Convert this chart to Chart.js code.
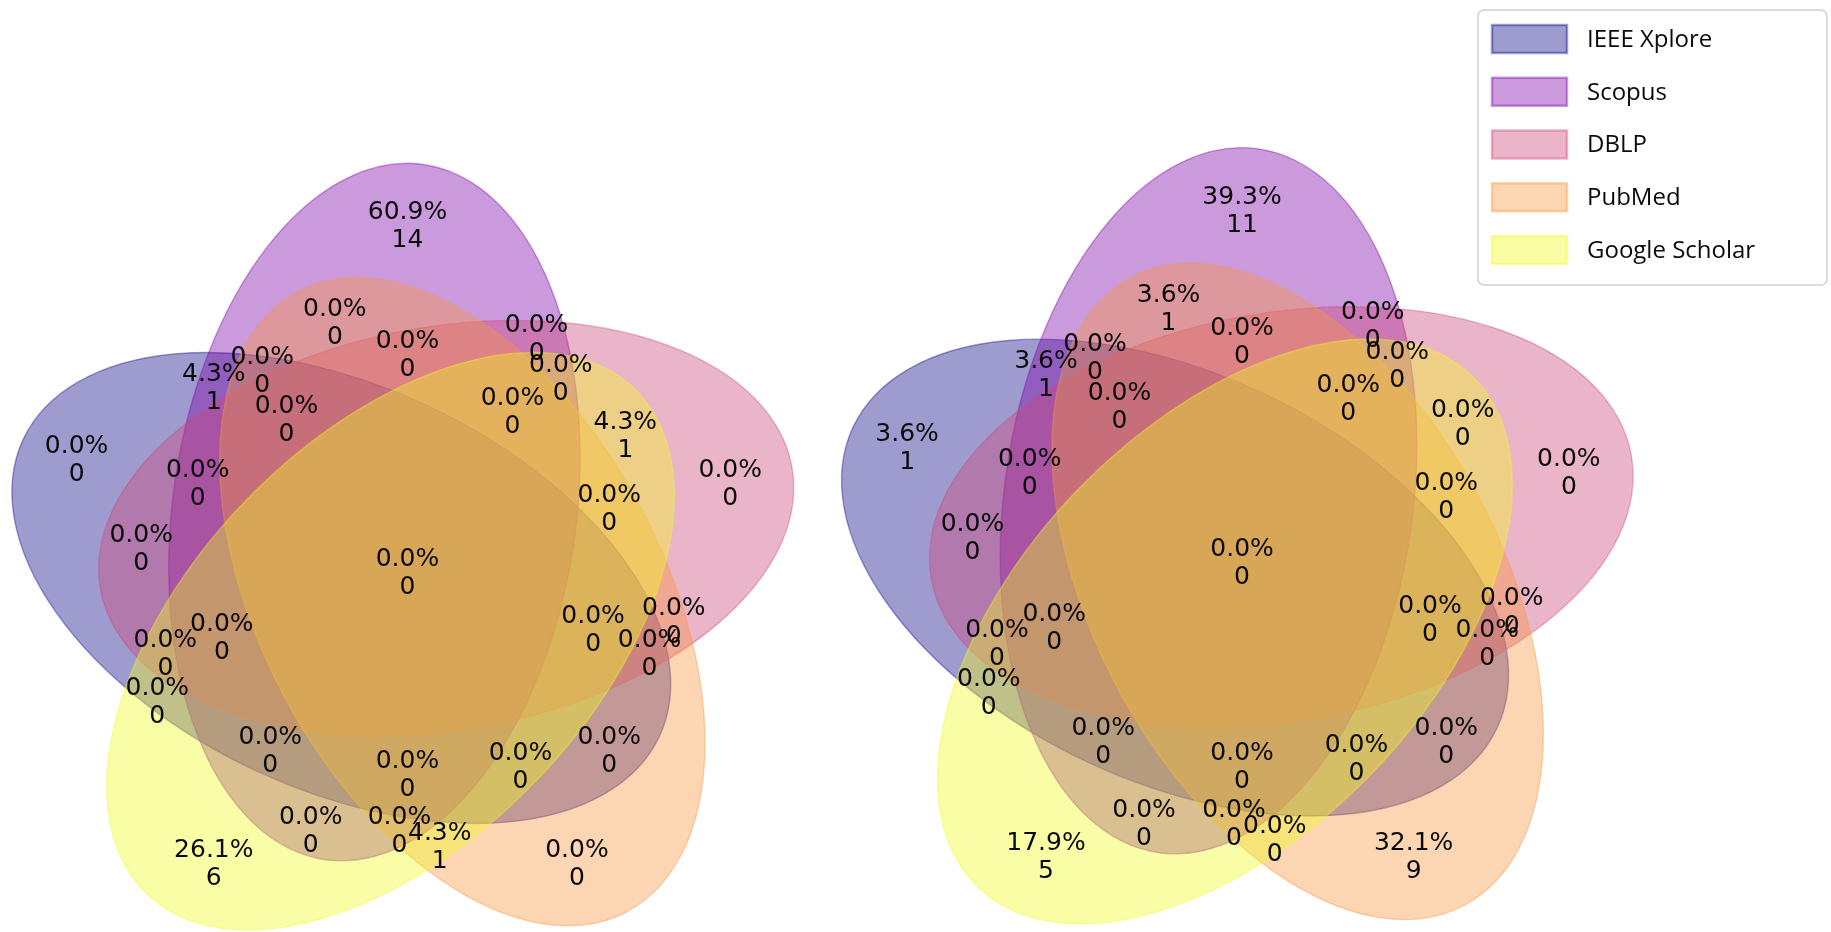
<!DOCTYPE html>
<html lang="en">
<head>
    <meta charset="UTF-8">
    <title>Venn</title>
    <script src="https://cdn.jsdelivr.net/npm/chart.js@4.4.0/dist/chart.umd.min.js"></script>
    <style>
        body { margin: 0; background: #fff; }
        #leftVenn { position: absolute; left: 0; top: 0; }
        #rightVenn { position: absolute; left: 820px; top: 0; }
    </style>
</head>
<body>
    <canvas id="leftVenn" width="820" height="932"></canvas>
    <canvas id="rightVenn" width="1011" height="932"></canvas>
<script>
    // sets, in order of the bits of a region code
    var setNames = ['IEEE Xplore', 'Scopus', 'DBLP', 'PubMed', 'Google Scholar'];
    var setColors = [[13, 8, 135], [126, 3, 168], [204, 71, 120], [248, 149, 64], [240, 249, 33]];

    // regions of the 5-set diagram (1 = inside that set)
    var regionCodes = ['00001', '00010', '00011', '00100', '00101', '00110', '00111',
        '01000', '01001', '01010', '01011', '01100', '01101', '01110', '01111',
        '10000', '10001', '10010', '10011', '10100', '10101', '10110', '10111',
        '11000', '11001', '11010', '11011', '11100', '11101', '11110', '11111'];

    var leftCounts = [6, 0, 1, 0, 1, 0, 0, 14, 0, 0, 0, 0, 0, 0, 0, 0, 0, 0, 0, 0, 0, 0, 0, 1, 0, 0, 0, 0, 0, 0, 0];
    var rightCounts = [5, 9, 0, 0, 0, 0, 0, 11, 0, 1, 0, 0, 0, 0, 0, 1, 0, 0, 0, 0, 0, 0, 0, 1, 0, 0, 0, 0, 0, 0, 0];

    // layout of the diagram in unit coordinates: ellipse [cx, cy, width, height, angle]
    var ellipses = [
        [0.428, 0.449, 0.87, 0.50, 155],
        [0.469, 0.543, 0.87, 0.50, 82],
        [0.558, 0.523, 0.87, 0.50, 10],
        [0.578, 0.432, 0.87, 0.50, 118],
        [0.489, 0.383, 0.87, 0.50, 46]
    ];
    var labelPos = [
        [0.27, 0.11], [0.72, 0.11], [0.55, 0.13], [0.91, 0.58], [0.78, 0.64], [0.84, 0.41], [0.76, 0.55],
        [0.51, 0.90], [0.39, 0.15], [0.42, 0.78], [0.50, 0.15], [0.67, 0.76], [0.70, 0.71], [0.51, 0.74], [0.64, 0.67],
        [0.10, 0.61], [0.20, 0.31], [0.76, 0.25], [0.65, 0.23], [0.18, 0.50], [0.21, 0.37], [0.81, 0.37], [0.74, 0.40],
        [0.27, 0.70], [0.34, 0.25], [0.33, 0.72], [0.51, 0.22], [0.25, 0.58], [0.28, 0.39], [0.36, 0.66], [0.51, 0.47]
    ];

    function rgba(c, a) {
        return `rgba(${c[0]}, ${c[1]}, ${c[2]}, ${a})`;
    }

    var vennShapes = {
        id: 'vennShapes',
        beforeDatasetsDraw(chart) {
            var ctx = chart.ctx, x = chart.scales.x, y = chart.scales.y;
            ctx.save();
            ellipses.forEach((e, i) => {
                var px = x.getPixelForValue(e[0]);
                var py = y.getPixelForValue(e[1]);
                var rx = Math.abs(x.getPixelForValue(e[0] + e[2] / 2) - px);
                var ry = Math.abs(y.getPixelForValue(e[1] + e[3] / 2) - py);
                ctx.beginPath();
                ctx.ellipse(px, py, rx, ry, -e[4] * Math.PI / 180, 0, 2 * Math.PI);
                ctx.fillStyle = rgba(setColors[i], 0.4);
                ctx.fill();
                ctx.strokeStyle = rgba(setColors[i], 0.4);
                ctx.lineWidth = 1.4;
                ctx.stroke();
            });
            ctx.restore();
        }
    };

    var vennLabels = {
        id: 'vennLabels',
        afterDatasetsDraw(chart) {
            var ctx = chart.ctx;
            var counts = chart.data.datasets[0].counts;
            var total = counts.reduce((a, b) => a + b);
            var meta = chart.getDatasetMeta(0);
            ctx.save();
            ctx.font = '25px "DejaVu Sans"';
            ctx.fillStyle = '#0a0a0a';
            ctx.textAlign = 'center';
            ctx.textBaseline = 'alphabetic';
            meta.data.forEach((pt, i) => {
                var pct = (counts[i] / total * 100).toFixed(1) + '%';
                ctx.fillText(pct, pt.x, pt.y - 14 + 9.1);
                ctx.fillText(String(counts[i]), pt.x, pt.y + 14 + 9.1);
            });
            ctx.restore();
        }
    };

    var vennLegend = {
        id: 'vennLegend',
        afterDraw(chart) {
            if (chart.canvas.id !== 'rightVenn') return;
            var ctx = chart.ctx;
            var bx = 658, by = 10, bw = 349, bh = 275;
            ctx.save();
            ctx.beginPath();
            ctx.roundRect(bx, by, bw, bh, 6);
            ctx.fillStyle = 'rgba(255, 255, 255, 0.8)';
            ctx.fill();
            ctx.strokeStyle = '#d0d0d0';
            ctx.lineWidth = 1.5;
            ctx.stroke();
            ctx.font = '24px "Open Sans"';
            ctx.textBaseline = 'middle';
            setNames.forEach((name, i) => {
                var ry = 25 + i * 52.75;
                ctx.fillStyle = rgba(setColors[i], 0.4);
                ctx.fillRect(672, ry, 75, 28);
                ctx.strokeStyle = rgba(setColors[i], 0.4);
                ctx.lineWidth = 2.5;
                ctx.strokeRect(672, ry, 75, 28);
                ctx.fillStyle = '#0a0a0a';
                ctx.fillText(name, 767, ry + 15);
            });
            ctx.restore();
        }
    };

    function makeVenn(id, counts, view) {
        return new Chart(document.getElementById(id), {
            type: 'scatter',
            data: {
                datasets: [{
                    label: 'regions',
                    counts: counts,
                    data: labelPos.map(p => ({ x: p[0], y: p[1] })),
                    pointRadius: 0,
                    pointHoverRadius: 0
                }]
            },
            options: {
                responsive: false,
                animation: false,
                layout: { padding: 0 },
                scales: {
                    x: { type: 'linear', min: view[0], max: view[1], display: false },
                    y: { type: 'linear', min: view[2], max: view[3], display: false }
                },
                plugins: {
                    legend: { display: false },
                    tooltip: { enabled: false }
                }
            },
            plugins: [vennShapes, vennLabels, vennLegend]
        });
    }

    makeVenn('leftVenn', leftCounts, [0.00508, 1.02118, 0.02268, 1.17757]);
    makeVenn('rightVenn', rightCounts, [-0.00661, 1.23084, 0.01518, 1.15594]);
</script>
</body>
</html>
